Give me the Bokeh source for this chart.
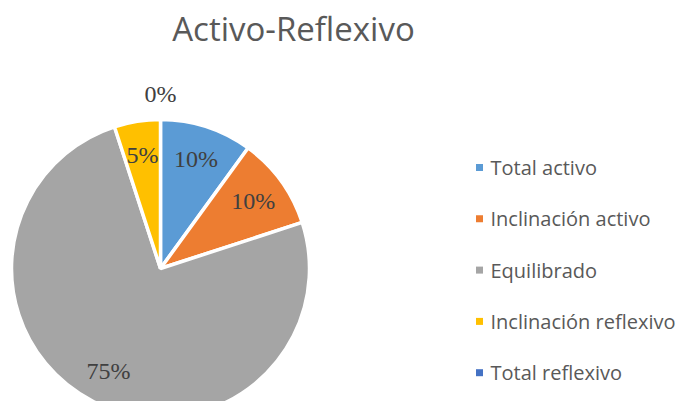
import math
from bokeh.plotting import figure
from bokeh.models import ColumnDataSource
from bokeh.core.properties import value
from bokeh.embed import file_html
from bokeh.resources import INLINE

title = "Activo-Reflexivo"
categories = ["Total activo", "Inclinación activo", "Equilibrado", "Inclinación reflexivo", "Total reflexivo"]
percents = [10, 10, 75, 5, 0]
colors = ["#5B9BD5", "#ED7D31", "#A5A5A5", "#FFC000", "#4472C4"]

W, H = 676, 401
p = figure(width=W, height=H, output_backend="svg", toolbar_location=None,
           x_range=(0, W), y_range=(0, H), min_border=0,
           outline_line_color=None, background_fill_color="white")
p.axis.visible = False
p.grid.visible = False

cx, cy, R = 160, 133, 149
total = sum(percents)
starts, ends, mids = [], [], []
cum = 0.0
for v in percents:
    a0 = math.pi / 2 - 2 * math.pi * cum / total
    cum += v
    a1 = math.pi / 2 - 2 * math.pi * cum / total
    starts.append(a0)
    ends.append(a1)
    mids.append((a0 + a1) / 2)

keep = [i for i, v in enumerate(percents) if v > 0]
src = ColumnDataSource(dict(start=[starts[i] for i in keep], end=[ends[i] for i in keep],
                            color=[colors[i] for i in keep]))
p.wedge(x=cx, y=cy, radius=R, start_angle="start", end_angle="end", direction="clock",
        fill_color="color", line_color="white", line_width=3.5, source=src)

# data labels
lx, ly, lt = [], [], []
for v, m in zip(percents, mids):
    r = 0.77 * R if v > 0 else 1.17 * R
    lx.append(cx + r * math.cos(m))
    ly.append(cy + r * math.sin(m))
    lt.append(f"{v}%")
p.text(x=lx, y=ly, text=lt, text_font=value("Liberation Serif"), text_font_size="24px",
       text_color="#404040", text_align="center", text_baseline="middle")

# title
p.text(x=[293], y=[H - 28], text=[title], text_font=value("Open Sans"), text_font_size="33px",
       text_color="#595959", text_align="center", text_baseline="middle")

# legend
top_y, step = H - 167, 51.3
leg_y = [top_y - i * step for i in range(len(categories))]
p.scatter(x=[479] * len(categories), y=leg_y, marker="square", size=7, fill_color=colors, line_color=None)
p.text(x=[490] * len(categories), y=leg_y, text=categories, text_font=value("Open Sans"),
       text_font_size="20px", text_color="#595959", text_align="left", text_baseline="middle")

open("out.html", "w").write(file_html(p, INLINE))
